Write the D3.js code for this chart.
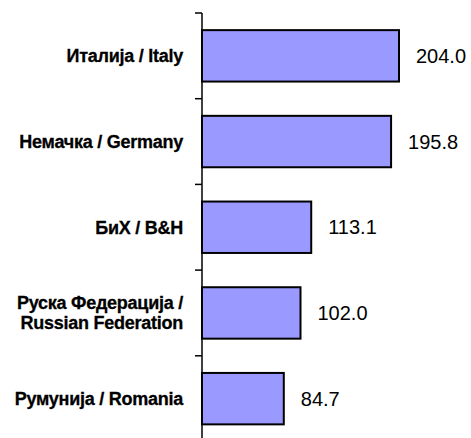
<!DOCTYPE html>
<html>
<head>
<meta charset="utf-8">
<script src="https://cdn.jsdelivr.net/npm/d3@7"></script>
<style>
  body { margin: 0; background: #fff; }
  svg { display: block; }
  .cat { font-family: "Liberation Sans", Arial, sans-serif; font-weight: bold; font-size: 18px; letter-spacing: -0.25px; fill: #000; stroke: #000; stroke-width: 0.3px; }
  .val { font-family: "Liberation Sans", Arial, sans-serif; font-size: 20px; fill: #000; }
</style>
</head>
<body>
<div id="chart"></div>
<script>
// values
var categories = ["Италија / Italy", "Немачка / Germany", "БиХ / B&H", "Руска Федерација / Russian Federation", "Румунија / Romania"];
var labelLines = [["Италија / Italy"], ["Немачка / Germany"], ["БиХ / B&H"], ["Руска Федерација /", "Russian Federation"], ["Румунија / Romania"]];
var values = [204.0, 195.8, 113.1, 102.0, 84.7];

var width = 471, height = 438;
var svg = d3.select("#chart").append("svg")
    .attr("width", width)
    .attr("height", height);

var y = d3.scaleBand()
    .domain(categories)
    .range([13, 441.5])
    .paddingInner(0.4)
    .paddingOuter(0.2);

var x = d3.scaleLinear()
    .domain([0, 204])
    .range([202, 399]);

var step = y.step();

// bars
svg.selectAll("rect.bar")
    .data(values)
    .enter()
    .append("rect")
    .attr("class", "bar")
    .attr("x", x(0))
    .attr("y", function (d, i) { return y(categories[i]); })
    .attr("width", function (d) { return x(d) - x(0); })
    .attr("height", y.bandwidth())
    .attr("fill", "#9999ff")
    .attr("stroke", "#000")
    .attr("stroke-width", 2);

// axis line + ticks between categories
svg.append("line")
    .attr("x1", x(0)).attr("x2", x(0))
    .attr("y1", y.range()[0]).attr("y2", height)
    .attr("stroke", "#000")
    .attr("stroke-width", 1.5);

var tickYs = categories.map(function (c) { return y(c) - step * y.paddingOuter(); });
svg.selectAll("line.tick")
    .data(tickYs)
    .enter()
    .append("line")
    .attr("class", "tick")
    .attr("x1", x(0) - 7).attr("x2", x(0))
    .attr("y1", function (d) { return d; })
    .attr("y2", function (d) { return d; })
    .attr("stroke", "#000")
    .attr("stroke-width", 1.5);

// category labels
var lab = svg.selectAll("text.cat")
    .data(labelLines)
    .enter()
    .append("text")
    .attr("class", "cat")
    .attr("text-anchor", "end")
    .attr("x", 183)
    .attr("y", function (d, i) { return y(categories[i]) + y.bandwidth() / 2; });

lab.selectAll("tspan")
    .data(function (d) { return d.map(function (t, j) { return { t: t, j: j, n: d.length }; }); })
    .enter()
    .append("tspan")
    .attr("x", 183)
    .attr("dy", function (d) { return d.j === 0 ? (0.35 - (d.n - 1) * 0.56) + "em" : "1.12em"; })
    .text(function (d) { return d.t; });

// value labels
svg.selectAll("text.val")
    .data(values)
    .enter()
    .append("text")
    .attr("class", "val")
    .attr("x", function (d) { return x(d) + 17; })
    .attr("y", function (d, i) { return y(categories[i]) + y.bandwidth() / 2; })
    .attr("dy", "0.35em")
    .text(function (d) { return d.toFixed(1); });
</script>
</body>
</html>
